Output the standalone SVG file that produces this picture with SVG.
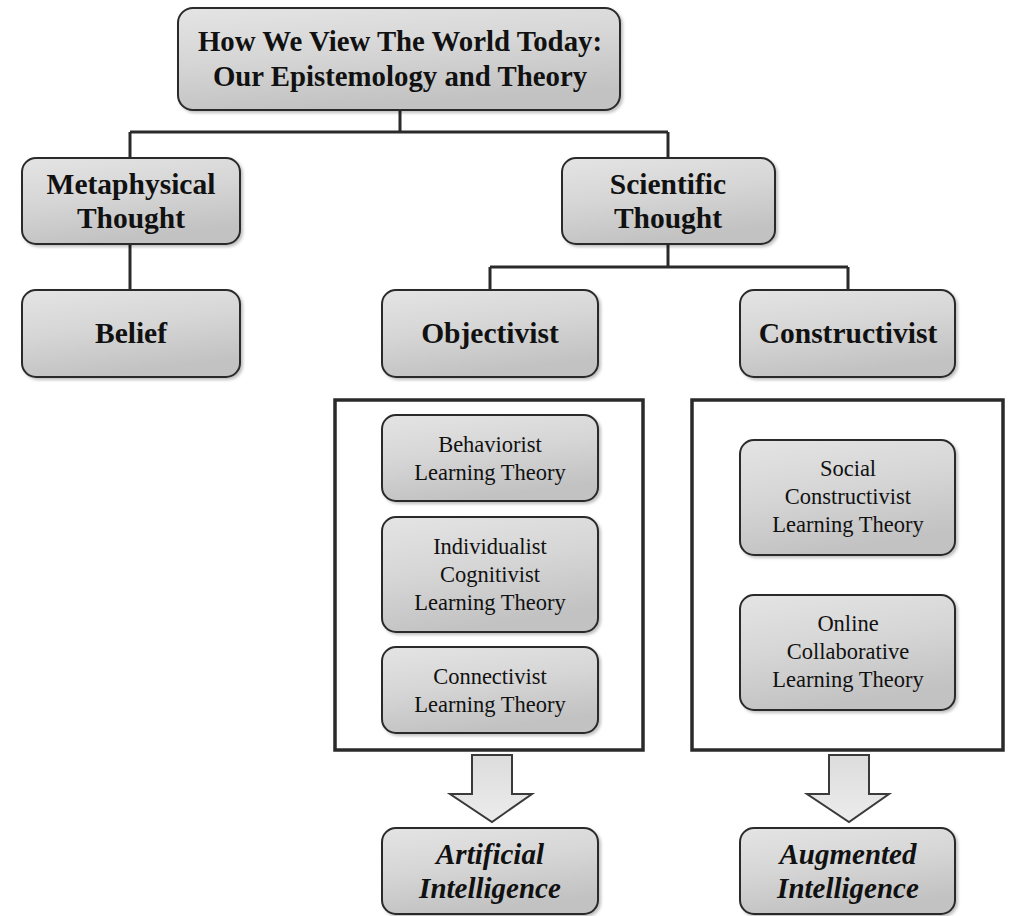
<svg xmlns="http://www.w3.org/2000/svg" width="1013" height="916" viewBox="0 0 1013 916">
  <defs>
    <linearGradient id="boxFill" x1="0" y1="0" x2="0.3" y2="1">
      <stop offset="0" stop-color="#e4e4e4"/>
      <stop offset="0.5" stop-color="#d6d6d6"/>
      <stop offset="1" stop-color="#c2c2c2"/>
    </linearGradient>
    <linearGradient id="arrowFill" x1="0" y1="0" x2="0" y2="1">
      <stop offset="0" stop-color="#dcdcdc"/>
      <stop offset="1" stop-color="#ececec"/>
    </linearGradient>
    <filter id="shadow" x="-5%" y="-5%" width="115%" height="120%">
      <feDropShadow dx="2" dy="2" stdDeviation="1.5" flood-color="#000" flood-opacity="0.25"/>
    </filter>
  </defs>
  <style>
    .box { fill: url(#boxFill); stroke: #2a2a2a; stroke-width: 2; filter: url(#shadow); }
    .frame { fill: #ffffff; stroke: #2a2a2a; stroke-width: 3.5; }
    .link { fill: none; stroke: #2a2a2a; stroke-width: 3; }
    .arrow { fill: url(#arrowFill); stroke: #3a3a3a; stroke-width: 2; stroke-linejoin: miter; }
    text { font-family: "Liberation Serif", "DejaVu Serif", serif; fill: #111; text-anchor: middle; }
    .title { font-size: 28.8px; font-weight: bold; }
    .head { font-size: 29.5px; font-weight: bold; }
    .sub { font-size: 22.5px; }
    .out { font-size: 29px; font-weight: bold; font-style: italic; }
  </style>

  <rect width="1013" height="916" fill="#ffffff"/>

  <!-- connectors -->
  <g id="connectors">
    <path class="link" d="M400 110 V132 M130 132 H668 M130 132 V158 M668 132 V158"/>
    <path class="link" d="M130 244 V290"/>
    <path class="link" d="M668 244 V267 M490 267 H848 M490 267 V290 M848 267 V290"/>
    <path class="arrow" d="M472 755 H512 V794 H532 L492 822 L450 794 H472 Z"/>
    <path class="arrow" d="M829 755 H869 V794 H889 L849 822 L807 794 H829 Z"/>
  </g>

  <g id="root">
    <rect class="box" x="178" y="8" width="442" height="102" rx="15"/>
    <text class="title" x="400" y="51">How We View The World Today:</text>
    <text class="title" x="400" y="86">Our Epistemology and Theory</text>
  </g>

  <g id="metaphysical">
    <rect class="box" x="22" y="158" width="218" height="86" rx="14"/>
    <text class="head" x="131" y="194">Metaphysical</text>
    <text class="head" x="131" y="228">Thought</text>
  </g>

  <g id="belief">
    <rect class="box" x="22" y="290" width="218" height="87" rx="14"/>
    <text class="head" x="131" y="343">Belief</text>
  </g>

  <g id="scientific">
    <rect class="box" x="562" y="158" width="213" height="86" rx="14"/>
    <text class="head" x="668" y="194">Scientific</text>
    <text class="head" x="668" y="228">Thought</text>
  </g>

  <g id="objectivist">
    <rect class="box" x="382" y="290" width="216" height="87" rx="14"/>
    <text class="head" x="490" y="343">Objectivist</text>
  </g>

  <g id="constructivist">
    <rect class="box" x="740" y="290" width="215" height="87" rx="14"/>
    <text class="head" x="848" y="343">Constructivist</text>
  </g>

  <g id="objectivist-theories">
    <rect class="frame" x="335" y="400" width="308" height="350"/>
    <g id="behaviorist">
      <rect class="box" x="382" y="415" width="216" height="86" rx="14"/>
      <text class="sub" x="490" y="452">Behaviorist</text>
      <text class="sub" x="490" y="480">Learning Theory</text>
    </g>
    <g id="cognitivist">
      <rect class="box" x="382" y="517" width="216" height="115" rx="14"/>
      <text class="sub" x="490" y="554">Individualist</text>
      <text class="sub" x="490" y="582">Cognitivist</text>
      <text class="sub" x="490" y="610">Learning Theory</text>
    </g>
    <g id="connectivist">
      <rect class="box" x="382" y="647" width="216" height="86" rx="14"/>
      <text class="sub" x="490" y="684">Connectivist</text>
      <text class="sub" x="490" y="712">Learning Theory</text>
    </g>
  </g>

  <g id="constructivist-theories">
    <rect class="frame" x="692" y="400" width="311" height="350"/>
    <g id="social">
      <rect class="box" x="740" y="440" width="215" height="115" rx="14"/>
      <text class="sub" x="848" y="476">Social</text>
      <text class="sub" x="848" y="504">Constructivist</text>
      <text class="sub" x="848" y="532">Learning Theory</text>
    </g>
    <g id="online">
      <rect class="box" x="740" y="595" width="215" height="115" rx="14"/>
      <text class="sub" x="848" y="631">Online</text>
      <text class="sub" x="848" y="659">Collaborative</text>
      <text class="sub" x="848" y="687">Learning Theory</text>
    </g>
  </g>

  <g id="artificial">
    <rect class="box" x="382" y="828" width="216" height="86" rx="14"/>
    <text class="out" x="490" y="864">Artificial</text>
    <text class="out" x="490" y="898">Intelligence</text>
  </g>

  <g id="augmented">
    <rect class="box" x="740" y="828" width="215" height="86" rx="14"/>
    <text class="out" x="848" y="864">Augmented</text>
    <text class="out" x="848" y="898">Intelligence</text>
  </g>
</svg>
